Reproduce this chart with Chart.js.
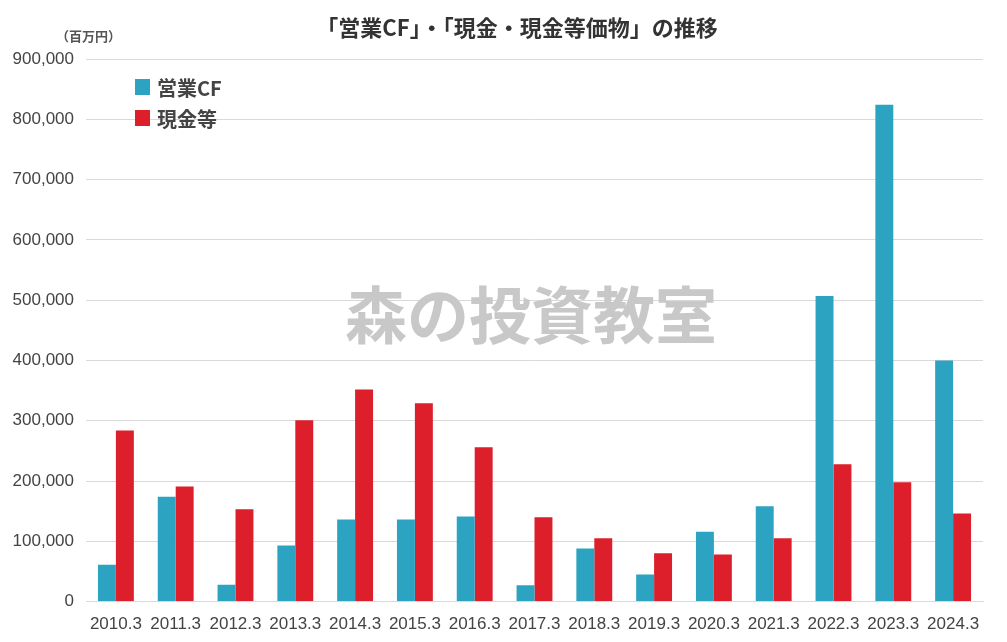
<!DOCTYPE html>
<html>
<head>
<meta charset="utf-8">
<script src="https://cdn.jsdelivr.net/npm/chart.js@4"></script>
<style>
  html, body { margin: 0; padding: 0; background: #fff; }
  #wrap { width: 1007px; height: 642px; }
</style>
</head>
<body>
<div id="wrap"><canvas id="cfChart" width="1007" height="642"></canvas></div>
<script>
const years = ['2010.3','2011.3','2012.3','2013.3','2014.3','2015.3','2016.3','2017.3','2018.3','2019.3','2020.3','2021.3','2022.3','2023.3','2024.3'];
const operatingCF = [61000, 174000, 28000, 93000, 136000, 136000, 141000, 27000, 88000, 45000, 116000, 158000, 507000, 824000, 400000];
const cashEq = [284000, 191000, 153000, 301000, 352000, 329000, 256000, 140000, 105000, 80000, 78000, 105000, 228000, 198000, 146000];
const yTicks = [0, 100000, 200000, 300000, 400000, 500000, 600000, 700000, 800000, 900000];

const JP = '"Noto Sans CJK JP", sans-serif';
const NUM = '"Liberation Sans", Arial, sans-serif';

// title, unit label, watermark and legend drawn on canvas
const decor = {
  id: 'decor',
  beforeDatasetsDraw(chart) {
    const ctx = chart.ctx;
    ctx.save();
    ctx.fillStyle = '#c8c8c8';
    ctx.font = 'bold 62px ' + JP;
    ctx.textAlign = 'center';
    ctx.textBaseline = 'middle';
    ctx.fillText('森の投資教室', 531, 315);
    ctx.restore();
  },
  afterDraw(chart) {
    const ctx = chart.ctx;
    ctx.save();
    ctx.fillStyle = '#333';
    ctx.font = 'bold 22px ' + JP;
    ctx.textAlign = 'center';
    ctx.textBaseline = 'middle';
    ctx.fillText('「営業CF」・「現金・現金等価物」の推移', 517, 28);

    ctx.fillStyle = '#555';
    ctx.font = 'bold 13px ' + JP;
    ctx.textAlign = 'left';
    ctx.fillText('（百万円）', 56, 36);

    ctx.font = 'bold 20px ' + JP;
    chart.data.datasets.forEach((ds, i) => {
      const y = 87 + i * 31;
      ctx.fillStyle = ds.backgroundColor;
      ctx.fillRect(135, y - 8, 15, 16);
      ctx.fillStyle = '#444';
      ctx.fillText(ds.label, 157, y + 1);
    });
    ctx.restore();
  }
};

new Chart(document.getElementById('cfChart'), {
  type: 'bar',
  data: {
    labels: years,
    datasets: [
      { label: '営業CF', data: operatingCF, backgroundColor: '#2ca3c0' },
      { label: '現金等', data: cashEq, backgroundColor: '#dc1f2b' }
    ]
  },
  options: {
    responsive: false,
    animation: false,
    layout: { padding: { top: 59, right: 24, left: 0, bottom: 2 } },
    plugins: { legend: { display: false }, title: { display: false }, tooltip: { enabled: false } },
    datasets: { bar: { categoryPercentage: 0.6, barPercentage: 1.0 } },
    scales: {
      x: {
        grid: { display: false },
        border: { color: '#d9d9d9', width: 1 },
        ticks: { color: '#444', font: { family: NUM, size: 17 }, padding: 5, maxRotation: 0 }
      },
      y: {
        min: 0, max: 900000,
        afterBuildTicks(axis) { axis.ticks = yTicks.map(v => ({ value: v })); },
        afterFit(axis) { axis.width = 86; },
        grid: { color: '#d9d9d9', drawTicks: false },
        border: { display: false },
        ticks: {
          color: '#444', font: { family: NUM, size: 17 }, padding: 12,
          callback: v => v.toLocaleString('en-US')
        }
      }
    }
  },
  plugins: [decor]
});
</script>
</body>
</html>
